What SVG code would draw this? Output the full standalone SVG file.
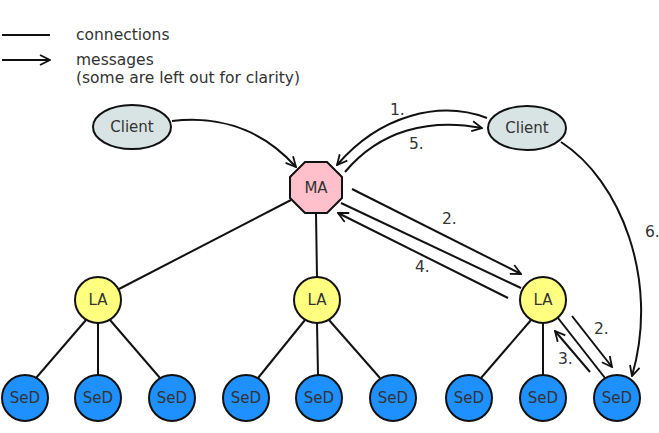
<svg xmlns="http://www.w3.org/2000/svg" width="659" height="433" viewBox="0 0 659 433">
<defs>
<marker id="ah" viewBox="0 0 12 12" refX="11" refY="6" markerWidth="12" markerHeight="12" markerUnits="userSpaceOnUse" orient="auto">
<path d="M1,1 L11,6 L1,11" fill="none" stroke="#111" stroke-width="1.8"/>
</marker>
<style>
.t{font-family:"DejaVu Sans",sans-serif;font-size:15.5px;fill:#333}
.n{font-family:"DejaVu Sans",sans-serif;font-size:15px;fill:#333;text-anchor:middle;dominant-baseline:central}
.c{stroke:#111;stroke-width:2;fill:none}
.m{stroke:#111;stroke-width:2;fill:none;marker-end:url(#ah)}
.sed{fill:#1e90ff;stroke:#111;stroke-width:2}
.la{fill:#ffff80;stroke:#111;stroke-width:2}
.cl{fill:#d8e4e3;stroke:#111;stroke-width:2}
</style>
</defs>
<rect width="659" height="433" fill="#fff"/>
<g id="legend">
<line x1="2" y1="35" x2="50" y2="35" class="c"/>
<line x1="2" y1="60" x2="50" y2="60" class="m"/>
<text x="76" y="40" class="t">connections</text>
<text x="76" y="65" class="t">messages</text>
<text x="76" y="83" class="t">(some are left out for clarity)</text>
</g>
<g id="connectors">
<line x1="291" y1="200" x2="119" y2="289" class="c"/>
<line x1="316" y1="213" x2="317" y2="277" class="c"/>
<line x1="341" y1="203" x2="521" y2="288" class="c"/>
<line x1="86" y1="320" x2="36" y2="378" class="c"/>
<line x1="98" y1="323" x2="98" y2="375" class="c"/>
<line x1="110" y1="320" x2="160" y2="378" class="c"/>
<line x1="305" y1="320" x2="258" y2="378" class="c"/>
<line x1="317" y1="323" x2="318" y2="375" class="c"/>
<line x1="329" y1="320" x2="380" y2="378" class="c"/>
<line x1="531" y1="320" x2="481" y2="378" class="c"/>
<line x1="543" y1="323" x2="543" y2="375" class="c"/>
<line x1="558" y1="318" x2="605" y2="378" class="c"/>
<path d="M172,121 C230,114 270,138 296,167" class="m"/>
<path d="M487,118 C440,100 380,115 337,165" class="m"/>
<path d="M345,172 C380,130 430,118 482,128" class="m"/>
<line x1="352" y1="189" x2="521" y2="274" class="m"/>
<line x1="508" y1="298" x2="338" y2="213" class="m"/>
<path d="M561,142 C620,180 660,280 632,376" class="m"/>
<line x1="572" y1="316" x2="612" y2="367" class="m"/>
<line x1="590" y1="372" x2="555" y2="331" class="m"/>
<text x="390" y="115" class="t">1.</text>
<text x="409" y="149" class="t">5.</text>
<text x="442" y="224" class="t">2.</text>
<text x="415" y="272" class="t">4.</text>
<text x="645" y="237" class="t">6.</text>
<text x="594" y="334" class="t">2.</text>
<text x="558" y="364" class="t">3.</text>
</g>
<g id="client1"><ellipse cx="132" cy="127" rx="39" ry="22" class="cl"/><text x="132" y="127" class="n">Client</text></g>
<g id="client2"><ellipse cx="527" cy="128" rx="39" ry="22" class="cl"/><text x="527" y="128" class="n">Client</text></g>
<g id="ma"><polygon points="305,162 327,162 342,177 342,198 327,213 305,213 290,198 290,177" fill="#ffc0cb" stroke="#111" stroke-width="2"/><text x="316" y="188" class="n">MA</text></g>
<g id="la1"><circle cx="98" cy="300" r="23" class="la"/><text x="98" y="300" class="n">LA</text></g>
<g id="la2"><circle cx="317" cy="300" r="23" class="la"/><text x="317" y="300" class="n">LA</text></g>
<g id="la3"><circle cx="543" cy="300" r="23" class="la"/><text x="543" y="300" class="n">LA</text></g>
<g id="sed1"><circle cx="25" cy="398" r="23" class="sed"/><text x="25" y="398" class="n">SeD</text></g>
<g id="sed2"><circle cx="98" cy="398" r="23" class="sed"/><text x="98" y="398" class="n">SeD</text></g>
<g id="sed3"><circle cx="172" cy="398" r="23" class="sed"/><text x="172" y="398" class="n">SeD</text></g>
<g id="sed4"><circle cx="246" cy="398" r="23" class="sed"/><text x="246" y="398" class="n">SeD</text></g>
<g id="sed5"><circle cx="319" cy="398" r="23" class="sed"/><text x="319" y="398" class="n">SeD</text></g>
<g id="sed6"><circle cx="393" cy="398" r="23" class="sed"/><text x="393" y="398" class="n">SeD</text></g>
<g id="sed7"><circle cx="469" cy="398" r="23" class="sed"/><text x="469" y="398" class="n">SeD</text></g>
<g id="sed8"><circle cx="543" cy="398" r="23" class="sed"/><text x="543" y="398" class="n">SeD</text></g>
<g id="sed9"><circle cx="617" cy="398" r="23" class="sed"/><text x="617" y="398" class="n">SeD</text></g>
</svg>
